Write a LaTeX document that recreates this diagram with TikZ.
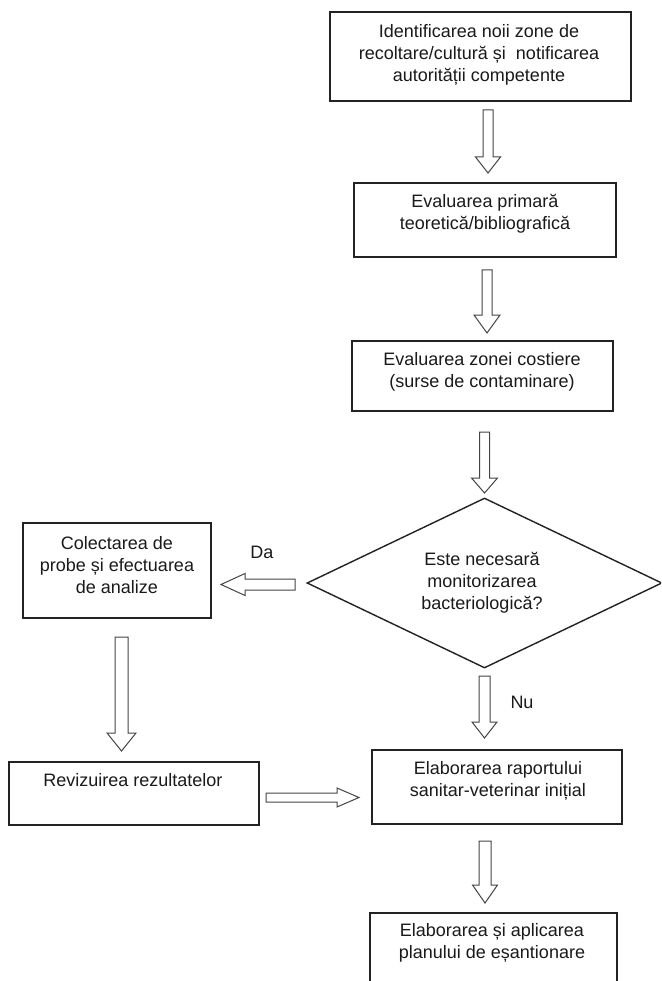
\documentclass[tikz,border=0pt]{standalone}
\usepackage{fontspec}
\setmainfont{Liberation Sans}
\usetikzlibrary{shapes.geometric}
\definecolor{boxc}{HTML}{222222}
\definecolor{arrc}{HTML}{454545}
\definecolor{txtc}{HTML}{1A1A1A}
% vertical block arrow: x, ytop, ytip, shaft half, head half, head length
\newcommand\blkdown[6]{\draw[blk] ({#1-#4},#2) -- ({#1+#4},#2) -- ({#1+#4},{#3-(#6)}) -- ({#1+#5},{#3-(#6)}) -- (#1,#3) -- ({#1-#5},{#3-(#6)}) -- ({#1-#4},{#3-(#6)}) -- cycle;}
% horizontal block arrow: y, xtail, xtip, shaft half, head half, head length (signed)
\newcommand\blkhor[6]{\draw[blk] (#2,{#1-#4}) -- ({#3-(#6)},{#1-#4}) -- ({#3-(#6)},{#1-#5}) -- (#3,#1) -- ({#3-(#6)},{#1+#5}) -- ({#3-(#6)},{#1+#4}) -- (#2,{#1+#4}) -- cycle;}
\begin{document}
\begin{tikzpicture}[x=1pt,y=-1pt,
  box/.style={draw=boxc,line width=1.4pt,inner sep=0pt,fill=white},
  txt/.style={align=center,font=\fontsize{18}{22}\selectfont,text=txtc,inner sep=0pt},
  blk/.style={draw=arrc,line width=1pt,fill=white,line join=miter}]
\clip (0,0) rectangle (661,981);
\fill[white] (0,0) rectangle (661,981);
% boxes
\node[box,minimum width=301pt,minimum height=89pt] (b1) at (480.5,56.5) {};
\node[box,minimum width=262pt,minimum height=74pt] (b2) at (485,220) {};
\node[box,minimum width=261pt,minimum height=70pt] (b3) at (482.5,376) {};
\node[box,shape=diamond,minimum width=355pt,minimum height=170pt] (dec) at (484.5,583) {};
\node[box,minimum width=188pt,minimum height=95pt] (bc) at (117,570.5) {};
\node[box,minimum width=250pt,minimum height=63pt] (br) at (134,793.5) {};
\node[box,minimum width=250pt,minimum height=74pt] (be) at (497,787) {};
\node[box,minimum width=247pt,minimum height=82pt] (bl) at (493.5,954) {};
% texts
\node[txt] (t1) at (479,54.5) {Identificarea noii zone de\\recoltare/cultură și \ notificarea\\autorității competente};
\node[txt] (t2) at (485,214) {Evaluarea primară\\teoretică/bibliografică};
\node[txt] (t3) at (482,371.5) {Evaluarea zonei costiere\\(surse de contaminare)};
\node[txt] (td) at (482,583) {Este necesară\\monitorizarea\\bacteriologică?};
\node[txt] (tc) at (117,565) {Colectarea de\\probe și efectuarea\\de analize};
\node[txt] (tr) at (133,780) {Revizuirea rezultatelor};
\node[txt] (te) at (498,781) {Elaborarea raportului\\sanitar-veterinar inițial};
\node[txt] (tl) at (492,943) {Elaborarea și aplicarea\\planului de eșantionare};
\node[txt] (da) at (262,552) {Da};
\node[txt] (nu) at (522,702) {Nu};
% block arrows
\blkdown{488}{110}{173}{5}{12.5}{16}
\blkdown{487}{270}{333}{5}{13}{18}
\blkdown{484.5}{432}{493}{5}{13}{15}
\blkdown{484.5}{676}{738}{5.5}{12.5}{16}
\blkdown{485}{841}{903}{6}{12.5}{18}
\blkdown{121.5}{637}{751}{6.5}{14.5}{18}
\blkhor{584.5}{295}{221}{5.5}{11}{-24}
\blkhor{797.5}{266}{359}{4.5}{9.5}{22}
\end{tikzpicture}
\end{document}
